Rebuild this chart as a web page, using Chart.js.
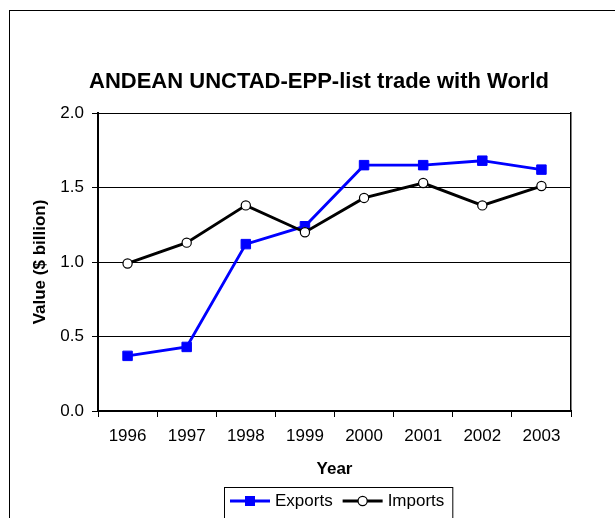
<!DOCTYPE html>
<html>
<head>
<meta charset="utf-8">
<script src="https://cdn.jsdelivr.net/npm/chart.js"></script>
<style>
  body { margin: 0; overflow: hidden; background: #fff; }
</style>
</head>
<body>
<canvas id="myChart" width="615" height="518"></canvas>
<script>
    //chart data
    const years = ["1996", "1997", "1998", "1999", "2000", "2001", "2002", "2003"];
    const exports_values = [0.37, 0.43, 1.12, 1.24, 1.65, 1.65, 1.68, 1.62];
    const imports_values = [0.99, 1.13, 1.38, 1.20, 1.43, 1.53, 1.38, 1.51];
    const y_ticks = [0, 0.5, 1.0, 1.5, 2.0];

    const font_family = "'Liberation Sans', Arial, sans-serif";

    //outer frame of the chart, cut off at right and bottom
    const framePlugin = {
        id: 'frame',
        beforeDraw(chart) {
            let ctx = chart.ctx;
            ctx.save();
            ctx.strokeStyle = '#000';
            ctx.lineWidth = 1;
            ctx.strokeRect(9.5, 10.5, 700, 600);
            ctx.restore();
        }
    };

    //legend with line and marker, drawn in a box under the x axis title
    const legendPlugin = {
        id: 'boxLegend',
        afterDraw(chart) {
            let ctx = chart.ctx;
            let area = chart.chartArea;
            ctx.save();
            ctx.font = "17px " + font_family;
            ctx.textBaseline = 'middle';
            let items = chart.data.datasets.map(ds => ({ ds: ds, w: ctx.measureText(ds.label).width }));
            let total = 6 + 8 + 10 * (items.length - 1);
            items.forEach(it => total += 45 + it.w);
            let left = Math.round((area.left + area.right) / 2 + 3.5 - total / 2);
            let top = area.bottom + 76;

            ctx.strokeStyle = '#000';
            ctx.lineWidth = 1;
            ctx.strokeRect(left + 0.5, top + 0.5, total, 34);

            let x = left + 6;
            let y = top + 14;
            items.forEach(it => {
                let ds = it.ds;
                ctx.strokeStyle = ds.borderColor;
                ctx.lineWidth = ds.borderWidth;
                ctx.beginPath();
                ctx.moveTo(x, y);
                ctx.lineTo(x + 40, y);
                ctx.stroke();
                if (ds.pointStyle === 'rect') {
                    ctx.fillStyle = ds.pointBackgroundColor;
                    ctx.fillRect(x + 15, y - 5, 10, 10);
                } else {
                    ctx.fillStyle = ds.pointBackgroundColor;
                    ctx.strokeStyle = ds.pointBorderColor;
                    ctx.lineWidth = ds.pointBorderWidth;
                    ctx.beginPath();
                    ctx.arc(x + 20, y, 4.6, 0, Math.PI * 2);
                    ctx.fill();
                    ctx.stroke();
                }
                ctx.fillStyle = '#000';
                ctx.fillText(ds.label, x + 45, y);
                x += 45 + it.w + 10;
            });
            ctx.restore();
        }
    };

    const data = {
        labels: years,
        datasets: [{
            label: 'Exports',
            data: exports_values,
            borderColor: '#0000ff',
            backgroundColor: '#0000ff',
            borderWidth: 2.9,
            pointStyle: 'rect',
            pointRadius: 6.7,
            pointBackgroundColor: '#0000ff',
            pointBorderColor: '#0000ff',
            pointBorderWidth: 1,
            order: 2
        }, {
            label: 'Imports',
            data: imports_values,
            borderColor: '#000000',
            backgroundColor: '#ffffff',
            borderWidth: 2.9,
            pointStyle: 'circle',
            pointRadius: 4.6,
            pointBackgroundColor: '#ffffff',
            pointBorderColor: '#000000',
            pointBorderWidth: 1.2,
            order: 1
        }]
    };

    const config = {
        type: 'line',
        data: data,
        options: {
            responsive: false,
            animation: false,
            devicePixelRatio: 1,
            layout: {
                padding: { left: 26, right: 3, top: 0, bottom: 34.8 }
            },
            plugins: {
                legend: { display: false },
                tooltip: { enabled: false },
                title: {
                    display: true,
                    text: 'ANDEAN UNCTAD-EPP-list trade with World',
                    color: '#000',
                    font: { family: font_family, size: 22, weight: 'bold' },
                    padding: { top: 69, bottom: 17.6 }
                }
            },
            scales: {
                x: {
                    offset: true,
                    afterFit: (scale) => { scale.height = 72.2; },
                    grid: {
                        offset: true,
                        drawOnChartArea: false,
                        drawTicks: true,
                        tickLength: 6,
                        color: '#000'
                    },
                    border: { color: '#000', width: 2 },
                    ticks: {
                        color: '#000',
                        padding: 9,
                        maxRotation: 0,
                        font: { family: font_family, size: 17 }
                    },
                    title: {
                        display: true,
                        text: 'Year',
                        color: '#000',
                        padding: { top: 4, bottom: 4 },
                        font: { family: font_family, size: 17, weight: 'bold' }
                    }
                },
                y: {
                    min: y_ticks[0],
                    max: y_ticks[y_ticks.length - 1],
                    afterFit: (scale) => { scale.width = 72; },
                    afterBuildTicks: (scale) => { scale.ticks = y_ticks.map(v => ({ value: v })); },
                    grid: {
                        color: '#000',
                        lineWidth: 1,
                        tickLength: 6
                    },
                    border: { color: '#000', width: 2 },
                    ticks: {
                        color: '#000',
                        padding: 8,
                        font: { family: font_family, size: 17 },
                        callback: (v) => Number(v).toFixed(1)
                    },
                    title: {
                        display: true,
                        text: 'Value ($ billion)',
                        color: '#000',
                        padding: { top: 4, bottom: 4 },
                        font: { family: font_family, size: 17, weight: 'bold' }
                    }
                },
                //right side only draws the plot border
                y2: {
                    position: 'right',
                    min: y_ticks[0],
                    max: y_ticks[y_ticks.length - 1],
                    afterFit: (scale) => { scale.width = 41; },
                    grid: { display: false, drawOnChartArea: false, drawTicks: false },
                    border: { display: true, color: '#000', width: 1.5 },
                    ticks: { display: false }
                }
            }
        },
        plugins: [framePlugin, legendPlugin]
    };

    let myChart = new Chart(document.getElementById('myChart'), config);
</script>
</body>
</html>
